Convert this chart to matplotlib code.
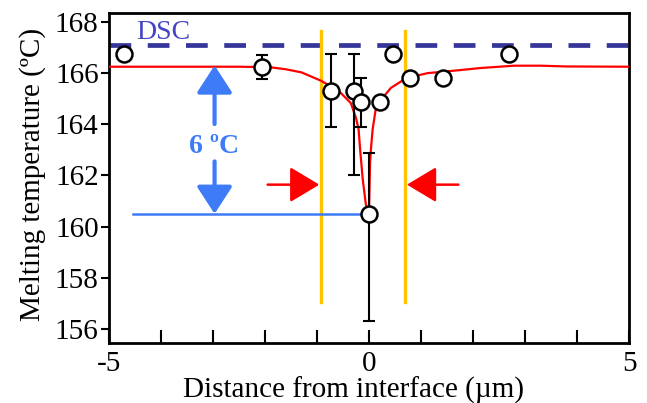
import matplotlib
matplotlib.use('Agg')
import matplotlib.pyplot as plt
from matplotlib.ticker import FixedLocator, MultipleLocator

# ---- data ----
pt_x = [-4.72, -2.06, -0.73, -0.28, -0.15, 0.0, 0.22, 0.455, 0.78, 1.43, 2.70]
pt_y = [166.74, 166.25, 165.32, 165.32, 164.86, 160.5, 164.86, 166.76, 165.82, 165.80, 166.73]
err_lo = [0, 0.47, 1.43, 3.32, 0.97, 4.2, 0, 0, 0, 0, 0]
err_hi = [0, 0.47, 1.42, 1.44, 0.93, 2.38, 0, 0, 0, 0, 0]

fit_x = [-5.0, -2.5, -1.9, -1.6, -1.3, -0.92, -0.57, -0.35, -0.25, -0.2, -0.17, -0.12,
         -0.06, 0.0, 0.01, 0.02, 0.04, 0.07, 0.10, 0.13, 0.26, 0.42, 0.62, 0.87, 1.13,
         1.51, 2.15, 2.79, 3.3, 3.8, 5.0]
fit_y = [166.25, 166.25, 166.23, 166.15, 166.03, 165.70, 165.28, 164.83, 164.25, 163.8,
         163.0, 161.84, 160.86, 160.5, 161.5, 162.5, 163.1, 163.8, 164.2, 164.6, 165.03,
         165.42, 165.68, 165.88, 166.0, 166.07, 166.2, 166.29, 166.29, 166.26, 166.25]

dsc_temp = 167.08
boundary_x = [-0.915, 0.69]
boundary_y = [157.06, 167.66]
drop_label = "6 ºC"
plateau_temp = 166.3
min_temp = 160.5

x_ticks = [-5, 0, 5]
y_ticks = [156, 158, 160, 162, 164, 166, 168]

plt.rcParams['font.family'] = ['Liberation Serif', 'DejaVu Serif']

fig = plt.figure(figsize=(6.47, 4.03), dpi=100)
ax = fig.add_axes([109/647, 1-343/403, 520/647, 330/403])

ax.set_xlim(-5, 5)
ax.set_ylim(155.45, 168.35)

blue = '#3d7bf7'
yellow = '#ffc400'

# DSC line
ax.axhline(dsc_temp, color='#35359a', lw=3.4, dashes=(4.6, 3.5), zorder=2)
ax.text(-4.48, 167.33, 'DSC', color='#4444c4', fontsize=20, va='baseline', ha='left')

# boundary lines
for bx in boundary_x:
    ax.plot([bx, bx], boundary_y, color=yellow, lw=2.4, zorder=2)

# fit curve
ax.plot(fit_x, fit_y, color='red', lw=1.6, zorder=3, solid_joinstyle='round')

# blue level line
ax.plot([-4.53, 0.0], [min_temp, min_temp], color=blue, lw=1.8, zorder=3)

# blue arrows
ap = dict(arrowstyle='-|>,head_length=0.4,head_width=0.26', mutation_scale=42,
          lw=3, color=blue, shrinkA=0, shrinkB=0)
ax.annotate('', xy=(-2.97, plateau_temp), xytext=(-2.97, 164.01), arrowprops=ap, zorder=4)
ax.annotate('', xy=(-2.97, min_temp), xytext=(-2.97, 162.55), arrowprops=ap, zorder=4)
ax.text(-2.98, 163.14, drop_label, color=blue, fontsize=20, fontweight='bold',
        ha='center', va='center')

# red arrows
rp = dict(arrowstyle='-|>,head_length=0.4,head_width=0.24', mutation_scale=46,
          lw=1.8, color='red', shrinkA=0, shrinkB=0)
ax.annotate('', xy=(-0.955, 161.64), xytext=(-1.95, 161.64), arrowprops=rp, zorder=4)
ax.annotate('', xy=(0.73, 161.64), xytext=(1.72, 161.64), arrowprops=rp, zorder=4)

# error bars and points
ax.errorbar(pt_x, pt_y, yerr=[err_lo, err_hi], fmt='none', ecolor='black',
            elinewidth=1.5, capsize=4, capthick=1.5, zorder=5)
ax.plot(pt_x, pt_y, 'o', ms=11.5, mfc='white', mec='black', mew=1.8, zorder=6)

# axes styling
for s in ax.spines.values():
    s.set_linewidth(2)
ax.xaxis.set_major_locator(FixedLocator(x_ticks))
ax.xaxis.set_minor_locator(MultipleLocator(1))
ax.yaxis.set_major_locator(FixedLocator(y_ticks))
ax.tick_params(axis='x', which='both', direction='in', length=9.5, width=1.5,
               top=False, labelsize=21, pad=6)
ax.tick_params(axis='y', which='major', direction='out', length=6, width=1.5,
               right=False, labelsize=21, pad=1.5)
ax.set_xticklabels(['-5', '0', '5'])

ax.set_xlabel('Distance from interface (µm)', fontsize=21)
ax.set_ylabel('Melting temperature (ºC)', fontsize=21)
ax.xaxis.set_label_coords(0.471, -0.102)
ax.yaxis.set_label_coords(-0.121, 0.51)

fig.savefig('out.png', dpi=100)
